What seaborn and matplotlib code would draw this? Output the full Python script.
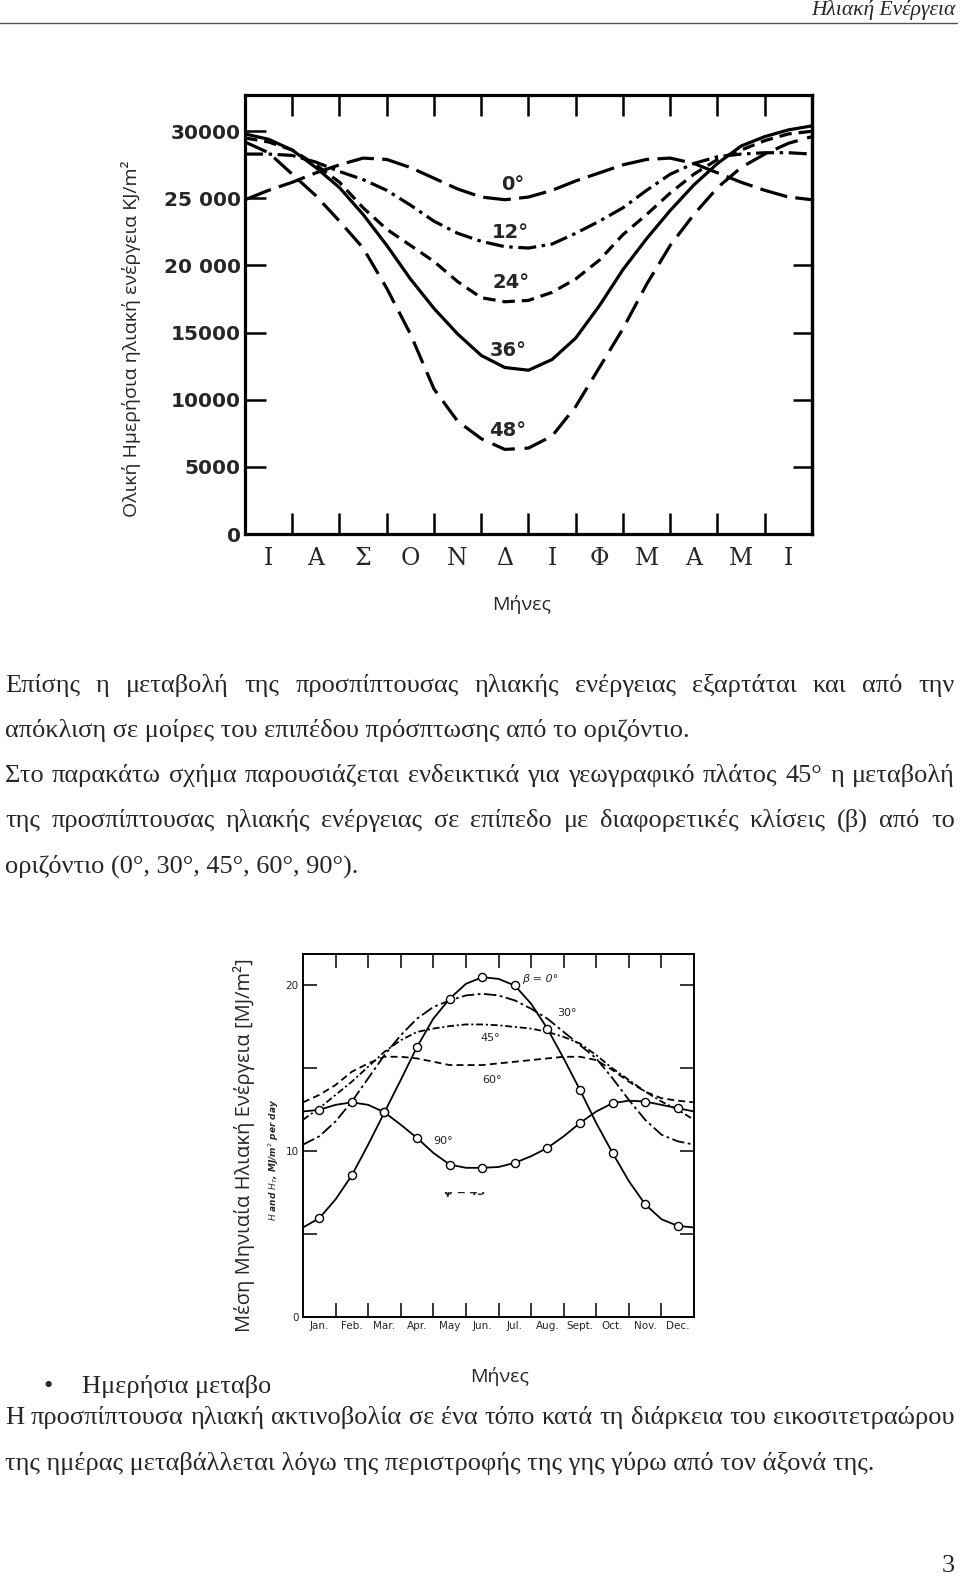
import matplotlib
matplotlib.use('Agg')
import matplotlib.pyplot as plt
import seaborn as sns
import numpy as np
import pandas as pd
from matplotlib.transforms import Bbox, TransformedBbox
from matplotlib.patches import Rectangle
from matplotlib.lines import Line2D

# ---------------- data: chart 1 (kJ/m2 per day, months Jul..Jun) ----------------
months_gr = ['Ι', 'Α', 'Σ', 'Ο', 'Ν', 'Δ', 'Ι', 'Φ', 'Μ', 'Α', 'Μ', 'Ι']
half_months = [0, 0.5, 1, 1.5, 2, 2.5, 3, 3.5, 4, 4.5, 5, 5.5, 6,
               6.5, 7, 7.5, 8, 8.5, 9, 9.5, 10, 10.5, 11, 11.5, 12]
tilt_labels_1 = ['0°', '12°', '24°', '36°', '48°']
tilt_0 = [24900, 25600, 26200, 26900, 27500, 28000, 27900, 27300, 26500, 25700, 25100, 24900, 25100,
          25600, 26300, 26900, 27500, 27900, 28000, 27600, 26900, 26200, 25600, 25100, 24900]
tilt_12 = [28300, 28300, 28200, 27700, 27000, 26400, 25600, 24500, 23300, 22400, 21800, 21400, 21300,
           21600, 22400, 23300, 24300, 25600, 26800, 27600, 28100, 28300, 28400, 28400, 28300]
tilt_24 = [29500, 29200, 28600, 27500, 26200, 24300, 22700, 21500, 20300, 18800, 17600, 17300, 17400,
           18000, 19000, 20400, 22300, 23800, 25400, 26800, 27900, 28600, 29300, 29800, 30000]
tilt_36 = [29800, 29400, 28600, 27300, 25800, 23800, 21500, 19000, 16800, 14900, 13300, 12400, 12200,
           13000, 14600, 17000, 19700, 22000, 24100, 26000, 27600, 28900, 29600, 30100, 30400]
tilt_48 = [29200, 28400, 26800, 25200, 23300, 21300, 18300, 14900, 10800, 8400, 7100, 6300, 6400,
           7300, 9500, 12400, 15300, 18600, 21500, 23800, 25800, 27300, 28300, 29100, 29600]
yticks_1 = [0, 5000, 10000, 15000, 20000, 25000, 30000]
ytick_labels_1 = ['0', '5000', '10000', '15000', '20 000', '25 000', '30000']

# ---------------- data: chart 2 (MJ/m2 per day, Jan..Dec, phi = 45) ----------------
months_en = ['Jan.', 'Feb.', 'Mar.', 'Apr.', 'May', 'Jun.', 'Jul.', 'Aug.', 'Sept.', 'Oct.', 'Nov.', 'Dec.']
tilt_labels_2 = ['β = 0°', '30°', '45°', '60°', '90°']
beta_0 = [5.4, 5.96, 7.1, 8.55, 10.4, 12.35, 14.3, 16.3, 18.0, 19.2, 20.1, 20.5, 20.4,
          20.0, 18.9, 17.4, 15.6, 13.7, 11.7, 9.9, 8.2, 6.8, 5.9, 5.5, 5.4]
beta_30 = [10.4, 10.9, 11.8, 13.0, 14.4, 15.8, 17.0, 18.0, 18.7, 19.1, 19.4, 19.5, 19.4,
           19.1, 18.6, 18.0, 17.2, 16.4, 15.6, 14.4, 13.1, 11.9, 11.0, 10.6, 10.4]
beta_45 = [11.9, 12.6, 13.4, 14.2, 15.1, 16.0, 16.7, 17.2, 17.4, 17.55, 17.65, 17.65, 17.6,
           17.5, 17.4, 17.2, 16.9, 16.5, 15.8, 15.0, 14.3, 13.6, 13.0, 12.5, 11.9]
beta_60 = [12.95, 13.4, 14.0, 14.8, 15.3, 15.7, 15.7, 15.6, 15.4, 15.2, 15.2, 15.2, 15.3,
           15.4, 15.5, 15.6, 15.7, 15.7, 15.5, 14.9, 14.2, 13.6, 13.2, 13.05, 12.95]
beta_90 = [12.4, 12.5, 12.8, 12.95, 12.8, 12.35, 11.6, 10.8, 9.9, 9.2, 9.0, 9.0, 9.05,
           9.3, 9.7, 10.2, 10.9, 11.7, 12.4, 12.9, 13.05, 13.0, 12.8, 12.6, 12.4]
yticks_2 = [0, 5, 10, 15, 20]
ytick_labels_2 = ['0', '', '10', '', '20']

# ---------------- text ----------------
header = 'Ηλιακή Ενέργεια'
para_lines = [
    ('Επίσης η μεταβολή της προσπίπτουσας ηλιακής ενέργειας εξαρτάται και από την', True),
    ('απόκλιση σε μοίρες του επιπέδου πρόσπτωσης από το οριζόντιο.', False),
    ('Στο παρακάτω σχήμα παρουσιάζεται ενδεικτικά για γεωγραφικό πλάτος 45° η μεταβολή', True),
    ('της προσπίπτουσας ηλιακής ενέργειας σε επίπεδο με διαφορετικές κλίσεις (β) από το', True),
    ('οριζόντιο (0°, 30°, 45°, 60°, 90°).', False),
]
bullet_text = 'Ημερήσια μεταβολή'
para2_lines = [
    ('Η προσπίπτουσα ηλιακή ακτινοβολία σε ένα τόπο κατά τη διάρκεια του εικοσιτετραώρου', True),
    ('της ημέρας μεταβάλλεται λόγω της περιστροφής της γης γύρω από τον άξονά της.', False),
]

# ---------------- setup ----------------
sns.set_theme(style='white')
plt.rcParams['font.family'] = ['DejaVu Sans']
plt.rcParams['lines.scale_dashes'] = False
plt.rcParams['axes.unicode_minus'] = False

W, H = 960, 1577
fig = plt.figure(figsize=(W / 100, H / 100), dpi=100)
fig.patch.set_facecolor('white')


def fx(x):
    return x / W


def fy(y):
    return 1 - y / H


SERIF = 'Liberation Serif'
SANS = 'Open Sans'

# ---------------- chart 1 ----------------
ax1 = fig.add_axes([fx(245), fy(534), (812 - 245) / W, (534 - 95) / H])
ax1.set_facecolor('white')
df1 = pd.DataFrame({
    'm': half_months * 5,
    'v': tilt_0 + tilt_12 + tilt_24 + tilt_36 + tilt_48,
    'tilt': np.repeat(tilt_labels_1, len(half_months)),
})
dashes1 = {'0°': (20, 6), '12°': (13, 4, 2.5, 4), '24°': (9, 5), '36°': '', '48°': (17, 7)}
sns.lineplot(data=df1, x='m', y='v', style='tilt', dashes=dashes1, color='black',
             lw=2.3, estimator=None, legend=False, sort=True, ax=ax1)
ax1.set_xlim(0, 12)
ax1.set_ylim(0, 32700)
ax1.set_xlabel('')
ax1.set_ylabel('')
ax1.set_xticks(range(1, 12))
ax1.set_xticklabels([])
ax1.set_xticks(np.arange(12) + 0.5, minor=True)
ax1.set_xticklabels(months_gr, minor=True, fontfamily='DejaVu Serif', fontsize=17)
ax1.tick_params(axis='x', which='minor', length=0, pad=9, bottom=True, top=False)
ax1.tick_params(axis='x', which='major', direction='in', length=15, width=1.8,
                top=True, bottom=True, color='black')
ax1.set_yticks(yticks_1)
ax1.set_yticklabels(ytick_labels_1, fontweight='bold', fontsize=14.5)
ax1.tick_params(axis='y', which='major', direction='in', length=15, width=1.8,
                left=True, right=False, pad=3, color='black')
for s in ax1.spines.values():
    s.set_visible(True)
    s.set_color('black')
    s.set_linewidth(2.3)
secy = ax1.secondary_yaxis('right')
secy.set_yticks(yticks_1[1:5])
secy.set_yticklabels([])
secy.tick_params(direction='in', length=14, width=1.8, color='black')
secy.spines['right'].set_linewidth(2.3)
secy.spines['right'].set_color('black')

for lab, (x, y) in zip(tilt_labels_1, [(513, 185), (510, 233), (511, 283), (508, 350), (508, 430)]):
    fig.text(fx(x), fy(y), lab, ha='center', va='center', fontsize=14, fontweight='bold')

fig.text(fx(131), fy(339), 'Ολική Ημερήσια ηλιακή ενέργεια KJ/m²', rotation=90,
         ha='center', va='center', family=SANS, fontsize=14)
fig.text(fx(522), fy(605), 'Μήνες', ha='center', va='center', family=SANS, fontsize=14)

# ---------------- chart 2 ----------------
ax2 = fig.add_axes([fx(303), fy(1317), (694 - 303) / W, (1317 - 954) / H])
ax2.set_facecolor('white')
df2 = pd.DataFrame({
    'm': half_months * 5,
    'v': beta_0 + beta_30 + beta_45 + beta_60 + beta_90,
    'tilt': np.repeat(tilt_labels_2, len(half_months)),
})
dashes2 = {'β = 0°': '', '30°': (9, 2.5, 2, 2.5), '45°': (5, 2, 1.5, 2), '60°': (5, 3), '90°': ''}
sns.lineplot(data=df2, x='m', y='v', style='tilt', dashes=dashes2, color='black',
             lw=1.3, estimator=None, legend=False, sort=True, ax=ax2)
centers = half_months[1::2]
dfm = pd.DataFrame({'m': centers * 2, 'v': beta_0[1::2] + beta_90[1::2]})
sns.scatterplot(data=dfm, x='m', y='v', marker='o', s=34, color='white',
                edgecolor='black', linewidth=1.0, zorder=5, legend=False, ax=ax2)
ax2.set_xlim(0, 12)
ax2.set_ylim(0, 21.9)
ax2.set_xlabel('')
ax2.set_ylabel('')
ax2.set_xticks(range(1, 12))
ax2.set_xticklabels([])
ax2.set_xticks(np.arange(12) + 0.5, minor=True)
ax2.set_xticklabels(months_en, minor=True, fontsize=7.5)
ax2.tick_params(axis='x', which='minor', length=0, pad=3, bottom=True, top=False)
ax2.tick_params(axis='x', which='major', direction='in', length=10, width=1.1,
                top=True, bottom=True, color='black')
ax2.set_yticks(yticks_2)
ax2.set_yticklabels(ytick_labels_2, fontsize=7.5)
ax2.tick_params(axis='y', which='major', direction='in', length=10, width=1.1,
                left=True, right=True, pad=3, color='black')
for s in ax2.spines.values():
    s.set_visible(True)
    s.set_color('black')
    s.set_linewidth(1.4)

fig.text(fx(540), fy(979), 'β = 0°', ha='center', va='center', fontsize=8, style='italic')
fig.text(fx(567), fy(1013), '30°', ha='center', va='center', fontsize=8)
fig.text(fx(490), fy(1038), '45°', ha='center', va='center', fontsize=8)
fig.text(fx(492), fy(1080), '60°', ha='center', va='center', fontsize=8)
fig.text(fx(443), fy(1141), '90°', ha='center', va='center', fontsize=8)
tphi = fig.text(fx(467), fy(1192), 'φ = 45°', ha='center', va='center', fontsize=8,
                style='italic', fontweight='bold')
tphi.set_clip_box(TransformedBbox(Bbox.from_extents(fx(420), fy(1205), fx(520), fy(1192)),
                                  fig.transFigure))
tphi.set_clip_on(True)

fig.text(fx(274), fy(1160), r'$H$ and $H_T$, MJ/m$^2$ per day', rotation=90, ha='center',
         va='center', fontsize=6.5, fontweight='bold', style='italic')
fig.text(fx(244), fy(1145), 'Μέση Μηνιαία Ηλιακή Ενέργεια [MJ/m²]', rotation=90,
         ha='center', va='center', family=SANS, fontsize=14.5)

# ---------------- page text ----------------
renderer = fig.canvas.get_renderer()
BODY = 19


def put_line(text, y, justify, x0=5, x1=955, size=BODY):
    if not justify:
        fig.text(fx(x0), fy(y), text, ha='left', va='baseline', family=SERIF, fontsize=size)
        return
    words = text.split(' ')
    arts, widths = [], []
    for w in words:
        t = fig.text(0, fy(y), w, ha='left', va='baseline', family=SERIF, fontsize=size)
        arts.append(t)
        widths.append(t.get_window_extent(renderer).width)
    gap = (x1 - x0 - sum(widths)) / (len(words) - 1)
    x = x0
    for t, wd in zip(arts, widths):
        t.set_x(fx(x))
        x += wd + gap


fig.text(fx(955), fy(15), header, ha='right', va='baseline', family=SERIF,
         style='italic', fontsize=15.5)
fig.add_artist(Line2D([0, fx(957)], [fy(22.5), fy(22.5)], color='#555555', lw=1.0,
                      transform=fig.transFigure))

for (txt, just), yb in zip(para_lines, [692, 737, 782, 827, 873]):
    put_line(txt, yb, just)

fig.text(fx(48), fy(1393), '•', ha='center', va='baseline', family=SERIF, fontsize=BODY)
fig.text(fx(82), fy(1393), bullet_text, ha='left', va='baseline', family=SERIF, fontsize=BODY)
fig.add_artist(Rectangle((fx(270), fy(1401)), fx(720) - fx(270), fy(1358) - fy(1401),
                         transform=fig.transFigure, facecolor='white', edgecolor='none',
                         zorder=5))
fig.text(fx(500), fy(1377), 'Μήνες', ha='center', va='center', family=SANS, fontsize=14,
         zorder=6)

for (txt, just), yb in zip(para2_lines, [1424, 1470]):
    put_line(txt, yb, just)

fig.text(fx(948), fy(1572), '3', ha='center', va='baseline', family=SERIF, fontsize=BODY)

fig.savefig('out.png', dpi=100)
